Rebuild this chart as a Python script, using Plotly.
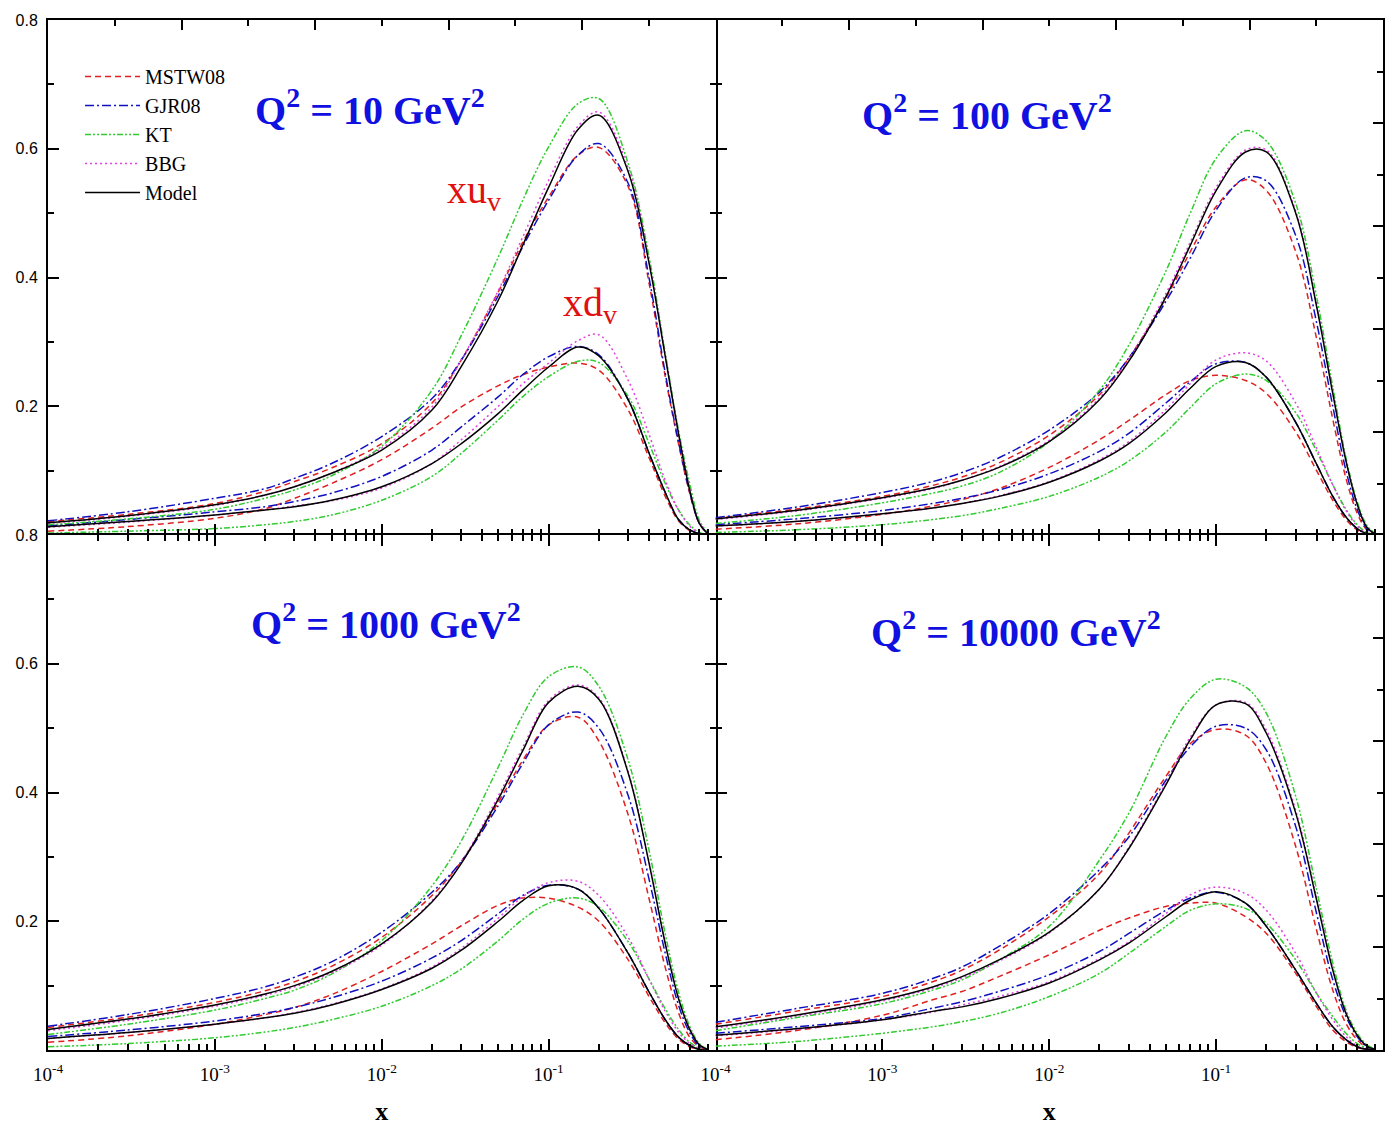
import plotly.graph_objects as go

# Sampling points in x (shared by every curve)
X_GRID = [1e-4, 3e-4, 1e-3, 2e-3, 3e-3, 5e-3, 0.01, 0.02, 0.03, 0.05, 0.07,
          0.1, 0.15, 0.2, 0.3, 0.4, 0.5, 0.6, 0.7, 0.8, 0.9]

# Q^2 = 10 GeV^2
Q10_XUV_MSTW = [0.021, 0.032, 0.049, 0.068, 0.083, 0.104, 0.142, 0.205, 0.272, 0.378, 0.455, 0.525, 0.590, 0.602, 0.541, 0.391, 0.246, 0.142, 0.065, 0.018, 0.002]
Q10_XUV_GJR = [0.022, 0.036, 0.057, 0.072, 0.088, 0.111, 0.153, 0.212, 0.272, 0.372, 0.448, 0.520, 0.590, 0.608, 0.546, 0.399, 0.251, 0.145, 0.067, 0.018, 0.002]
Q10_XUV_KT = [0.016, 0.025, 0.040, 0.057, 0.070, 0.092, 0.138, 0.225, 0.310, 0.432, 0.520, 0.603, 0.670, 0.678, 0.577, 0.432, 0.282, 0.163, 0.080, 0.023, 0.003]
Q10_XUV_BBG = [0.018, 0.029, 0.046, 0.062, 0.075, 0.096, 0.135, 0.199, 0.272, 0.380, 0.463, 0.551, 0.635, 0.657, 0.570, 0.425, 0.280, 0.160, 0.072, 0.019, 0.002]
Q10_XUV_MODEL = [0.019, 0.030, 0.047, 0.062, 0.075, 0.096, 0.132, 0.194, 0.262, 0.365, 0.450, 0.540, 0.630, 0.652, 0.564, 0.422, 0.277, 0.158, 0.070, 0.018, 0.002]
Q10_XDV_MSTW = [0.006, 0.013, 0.026, 0.041, 0.057, 0.080, 0.117, 0.166, 0.199, 0.232, 0.249, 0.261, 0.267, 0.256, 0.194, 0.120, 0.060, 0.022, 0.007, 0.001, 0.0]
Q10_XDV_GJR = [0.014, 0.024, 0.036, 0.044, 0.052, 0.065, 0.091, 0.132, 0.168, 0.215, 0.249, 0.277, 0.293, 0.280, 0.210, 0.127, 0.066, 0.024, 0.008, 0.002, 0.0]
Q10_XDV_KT = [0.003, 0.006, 0.010, 0.016, 0.021, 0.031, 0.054, 0.091, 0.127, 0.179, 0.215, 0.246, 0.270, 0.268, 0.215, 0.142, 0.080, 0.039, 0.016, 0.004, 0.001]
Q10_XDV_BBG = [0.012, 0.020, 0.031, 0.039, 0.045, 0.053, 0.073, 0.111, 0.148, 0.200, 0.235, 0.267, 0.302, 0.311, 0.240, 0.156, 0.085, 0.039, 0.014, 0.003, 0.0]
Q10_XDV_MODEL = [0.013, 0.021, 0.031, 0.039, 0.044, 0.054, 0.075, 0.111, 0.142, 0.189, 0.225, 0.261, 0.292, 0.278, 0.210, 0.127, 0.066, 0.024, 0.008, 0.002, 0.0]

# Q^2 = 100 GeV^2
Q100_XUV_MSTW = [0.026, 0.040, 0.060, 0.077, 0.090, 0.112, 0.155, 0.218, 0.275, 0.368, 0.440, 0.510, 0.552, 0.535, 0.440, 0.305, 0.180, 0.088, 0.034, 0.008, 0.001]
Q100_XUV_GJR = [0.027, 0.043, 0.066, 0.083, 0.097, 0.120, 0.163, 0.222, 0.275, 0.363, 0.430, 0.505, 0.555, 0.550, 0.465, 0.330, 0.200, 0.100, 0.040, 0.010, 0.001]
Q100_XUV_KT = [0.018, 0.030, 0.050, 0.065, 0.076, 0.097, 0.145, 0.225, 0.295, 0.410, 0.500, 0.585, 0.628, 0.612, 0.515, 0.370, 0.230, 0.120, 0.052, 0.015, 0.002]
Q100_XUV_BBG = [0.024, 0.037, 0.057, 0.072, 0.085, 0.106, 0.147, 0.213, 0.273, 0.375, 0.455, 0.540, 0.598, 0.598, 0.503, 0.358, 0.222, 0.116, 0.049, 0.012, 0.001]
Q100_XUV_MODEL = [0.025, 0.038, 0.058, 0.073, 0.085, 0.105, 0.145, 0.210, 0.270, 0.370, 0.450, 0.535, 0.595, 0.595, 0.500, 0.355, 0.220, 0.115, 0.048, 0.012, 0.001]
Q100_XDV_MSTW = [0.009, 0.017, 0.032, 0.045, 0.055, 0.072, 0.105, 0.148, 0.178, 0.218, 0.240, 0.248, 0.240, 0.220, 0.160, 0.100, 0.054, 0.024, 0.008, 0.002, 0.0]
Q100_XDV_GJR = [0.016, 0.025, 0.038, 0.049, 0.057, 0.070, 0.095, 0.130, 0.158, 0.205, 0.238, 0.266, 0.268, 0.245, 0.175, 0.110, 0.060, 0.028, 0.010, 0.002, 0.0]
Q100_XDV_KT = [0.004, 0.008, 0.016, 0.024, 0.030, 0.041, 0.060, 0.090, 0.115, 0.160, 0.198, 0.235, 0.250, 0.240, 0.190, 0.130, 0.078, 0.040, 0.016, 0.004, 0.0]
Q100_XDV_BBG = [0.014, 0.021, 0.033, 0.042, 0.049, 0.061, 0.083, 0.117, 0.145, 0.195, 0.235, 0.272, 0.283, 0.270, 0.205, 0.135, 0.078, 0.038, 0.014, 0.003, 0.0]
Q100_XDV_MODEL = [0.014, 0.021, 0.033, 0.042, 0.049, 0.060, 0.082, 0.115, 0.142, 0.190, 0.228, 0.262, 0.268, 0.245, 0.175, 0.110, 0.060, 0.028, 0.010, 0.002, 0.0]

# Q^2 = 1000 GeV^2
Q1000_XUV_MSTW = [0.035, 0.051, 0.074, 0.092, 0.106, 0.130, 0.175, 0.240, 0.293, 0.385, 0.450, 0.505, 0.517, 0.480, 0.365, 0.235, 0.128, 0.058, 0.020, 0.005, 0.0]
Q1000_XUV_GJR = [0.037, 0.055, 0.080, 0.098, 0.113, 0.137, 0.183, 0.245, 0.293, 0.380, 0.445, 0.505, 0.525, 0.500, 0.395, 0.265, 0.150, 0.070, 0.027, 0.006, 0.001]
Q1000_XUV_KT = [0.024, 0.040, 0.062, 0.080, 0.093, 0.118, 0.170, 0.255, 0.325, 0.440, 0.520, 0.580, 0.595, 0.565, 0.450, 0.310, 0.180, 0.090, 0.037, 0.010, 0.001]
Q1000_XUV_BBG = [0.030, 0.046, 0.068, 0.085, 0.098, 0.120, 0.163, 0.232, 0.292, 0.395, 0.470, 0.543, 0.567, 0.547, 0.432, 0.292, 0.167, 0.081, 0.033, 0.008, 0.001]
Q1000_XUV_MODEL = [0.032, 0.048, 0.070, 0.087, 0.100, 0.122, 0.165, 0.230, 0.290, 0.390, 0.465, 0.540, 0.565, 0.545, 0.430, 0.290, 0.165, 0.080, 0.032, 0.008, 0.001]
Q1000_XDV_MSTW = [0.012, 0.022, 0.040, 0.055, 0.066, 0.086, 0.122, 0.165, 0.193, 0.225, 0.236, 0.236, 0.222, 0.200, 0.140, 0.083, 0.042, 0.017, 0.005, 0.001, 0.0]
Q1000_XDV_GJR = [0.021, 0.031, 0.045, 0.057, 0.066, 0.081, 0.107, 0.143, 0.170, 0.212, 0.240, 0.256, 0.250, 0.220, 0.150, 0.090, 0.047, 0.020, 0.007, 0.001, 0.0]
Q1000_XDV_KT = [0.005, 0.010, 0.019, 0.028, 0.035, 0.047, 0.068, 0.100, 0.126, 0.170, 0.203, 0.228, 0.236, 0.222, 0.168, 0.110, 0.064, 0.032, 0.012, 0.003, 0.0]
Q1000_XDV_BBG = [0.018, 0.027, 0.040, 0.050, 0.058, 0.071, 0.095, 0.129, 0.158, 0.205, 0.238, 0.260, 0.262, 0.240, 0.175, 0.110, 0.060, 0.028, 0.010, 0.002, 0.0]
Q1000_XDV_MODEL = [0.018, 0.027, 0.040, 0.050, 0.057, 0.070, 0.094, 0.127, 0.155, 0.200, 0.232, 0.255, 0.250, 0.220, 0.150, 0.090, 0.047, 0.020, 0.007, 0.001, 0.0]

# Q^2 = 10000 GeV^2
Q10000_XUV_MSTW = [0.040, 0.060, 0.083, 0.106, 0.124, 0.155, 0.207, 0.274, 0.337, 0.425, 0.476, 0.498, 0.489, 0.445, 0.316, 0.186, 0.093, 0.041, 0.016, 0.004, 0.0]
Q10000_XUV_GJR = [0.043, 0.064, 0.088, 0.111, 0.129, 0.161, 0.212, 0.280, 0.331, 0.419, 0.471, 0.503, 0.500, 0.466, 0.347, 0.212, 0.109, 0.052, 0.021, 0.005, 0.001]
Q10000_XUV_KT = [0.030, 0.050, 0.072, 0.093, 0.109, 0.140, 0.192, 0.295, 0.368, 0.487, 0.546, 0.576, 0.564, 0.523, 0.394, 0.249, 0.135, 0.062, 0.026, 0.008, 0.001]
Q10000_XUV_BBG = [0.034, 0.052, 0.076, 0.096, 0.112, 0.138, 0.182, 0.250, 0.315, 0.415, 0.486, 0.536, 0.540, 0.497, 0.372, 0.236, 0.126, 0.058, 0.023, 0.006, 0.001]
Q10000_XUV_MODEL = [0.036, 0.054, 0.078, 0.098, 0.114, 0.140, 0.183, 0.250, 0.313, 0.412, 0.482, 0.536, 0.538, 0.492, 0.368, 0.233, 0.124, 0.057, 0.023, 0.006, 0.001]
Q10000_XDV_MSTW = [0.016, 0.030, 0.054, 0.078, 0.091, 0.114, 0.148, 0.186, 0.205, 0.223, 0.228, 0.228, 0.207, 0.181, 0.119, 0.067, 0.031, 0.013, 0.004, 0.001, 0.0]
Q10000_XDV_GJR = [0.026, 0.036, 0.049, 0.065, 0.075, 0.091, 0.117, 0.153, 0.181, 0.217, 0.236, 0.245, 0.228, 0.192, 0.124, 0.072, 0.036, 0.016, 0.005, 0.001, 0.0]
Q10000_XDV_KT = [0.006, 0.013, 0.026, 0.036, 0.044, 0.057, 0.083, 0.119, 0.150, 0.192, 0.217, 0.227, 0.220, 0.197, 0.140, 0.088, 0.052, 0.026, 0.010, 0.003, 0.0]
Q10000_XDV_BBG = [0.022, 0.032, 0.047, 0.059, 0.070, 0.083, 0.106, 0.142, 0.168, 0.212, 0.241, 0.253, 0.243, 0.217, 0.150, 0.088, 0.047, 0.021, 0.006, 0.001, 0.0]
Q10000_XDV_MODEL = [0.023, 0.033, 0.047, 0.060, 0.067, 0.080, 0.104, 0.140, 0.166, 0.207, 0.233, 0.246, 0.228, 0.192, 0.124, 0.072, 0.036, 0.016, 0.005, 0.001, 0.0]

SERIES_NAMES = ["MSTW08", "GJR08", "KT", "BBG", "Model"]
SERIES_COLORS = ["#e02020", "#1010c0", "#30cc30", "#e040e0", "#000000"]
SERIES_DASH = ["6px,4px", "9px,3px,2px,3px", "6px,2px,2px,2px,2px,2px", "2px,3px", "solid"]

PANEL_TITLES = ["Q<sup>2</sup> = 10 GeV<sup>2</sup>", "Q<sup>2</sup> = 100 GeV<sup>2</sup>",
                "Q<sup>2</sup> = 1000 GeV<sup>2</sup>", "Q<sup>2</sup> = 10000 GeV<sup>2</sup>"]

panels = [
    ("x", "y", [Q10_XUV_MSTW, Q10_XUV_GJR, Q10_XUV_KT, Q10_XUV_BBG, Q10_XUV_MODEL],
     [Q10_XDV_MSTW, Q10_XDV_GJR, Q10_XDV_KT, Q10_XDV_BBG, Q10_XDV_MODEL]),
    ("x2", "y2", [Q100_XUV_MSTW, Q100_XUV_GJR, Q100_XUV_KT, Q100_XUV_BBG, Q100_XUV_MODEL],
     [Q100_XDV_MSTW, Q100_XDV_GJR, Q100_XDV_KT, Q100_XDV_BBG, Q100_XDV_MODEL]),
    ("x3", "y3", [Q1000_XUV_MSTW, Q1000_XUV_GJR, Q1000_XUV_KT, Q1000_XUV_BBG, Q1000_XUV_MODEL],
     [Q1000_XDV_MSTW, Q1000_XDV_GJR, Q1000_XDV_KT, Q1000_XDV_BBG, Q1000_XDV_MODEL]),
    ("x4", "y4", [Q10000_XUV_MSTW, Q10000_XUV_GJR, Q10000_XUV_KT, Q10000_XUV_BBG, Q10000_XUV_MODEL],
     [Q10000_XDV_MSTW, Q10000_XDV_GJR, Q10000_XDV_KT, Q10000_XDV_BBG, Q10000_XDV_MODEL]),
]

fig = go.Figure()

for p, (xa, ya, up_sets, down_sets) in enumerate(panels):
    for k in range(5):
        for j, vals in enumerate((up_sets[k], down_sets[k])):
            fig.add_trace(go.Scatter(
                x=X_GRID, y=vals, xaxis=xa, yaxis=ya, mode="lines",
                name=SERIES_NAMES[k], legendgroup=SERIES_NAMES[k],
                showlegend=(p == 0 and j == 0),
                line=dict(color=SERIES_COLORS[k], width=1.5, dash=SERIES_DASH[k],
                          shape="spline", smoothing=1.0),
                hoverinfo="skip",
            ))

# empty traces so that the frame axes on the top / right get drawn
for xa, ya in (("x5", "y"), ("x6", "y2"), ("x2", "y5"), ("x4", "y6")):
    fig.add_trace(go.Scatter(x=[None], y=[None], xaxis=xa, yaxis=ya, mode="lines",
                             showlegend=False, hoverinfo="skip"))

SERIF = "Liberation Serif, Times New Roman, serif"
SANS = "Liberation Sans, Arial, sans-serif"

MAJOR_X = [1e-4, 1e-3, 1e-2, 1e-1]
MAJOR_X_TEXT = ["10<sup>-4</sup>", "10<sup>-3</sup>", "10<sup>-2</sup>", "10<sup>-1</sup>"]
MINOR_X = [k * 10.0 ** e for e in range(-4, 0) for k in range(2, 10)]


def log_axis(domain, anchor, labels, line, mirror):
    ax = dict(
        type="log", range=[-4, 0], domain=domain, anchor=anchor,
        tickmode="array", tickvals=MAJOR_X, ticktext=MAJOR_X_TEXT,
        showticklabels=labels, ticks="inside", ticklen=11, tickwidth=1.8,
        tickcolor="black", showline=line, linecolor="black", linewidth=2,
        mirror=mirror, showgrid=False, zeroline=False,
        tickfont=dict(family=SERIF, size=19, color="black"),
        ticklabelstandoff=6,
        minor=dict(tickmode="array", tickvals=MINOR_X, ticks="inside", ticklen=6,
                   tickwidth=1.5, tickcolor="black", showgrid=False),
    )
    if labels:
        ax["title"] = dict(text="<b>x</b>", font=dict(family=SERIF, size=26, color="black"),
                           standoff=18)
    return ax


def lin_y_axis(domain, anchor, labels, line, mirror):
    return dict(
        range=[0, 0.8], domain=domain, anchor=anchor,
        tickmode="array", tickvals=[0.2, 0.4, 0.6, 0.8],
        ticktext=["0.2", "0.4", "0.6", "0.8"],
        showticklabels=labels, ticks="inside", ticklen=11, tickwidth=1.8,
        tickcolor="black", showline=line, linecolor="black", linewidth=2,
        mirror=mirror, showgrid=False, zeroline=False,
        tickfont=dict(family=SANS, size=16, color="black"),
        ticklabelstandoff=5,
        minor=dict(dtick=0.1, tick0=0, ticks="inside", ticklen=6, tickwidth=1.5,
                   tickcolor="black", showgrid=False),
    )


def frame_ticks(overlay, anchor, side):
    return dict(
        overlaying=overlay, anchor=anchor, side=side, range=[0, 1],
        tickmode="linear", tick0=0, dtick=0.2, ticks="inside", ticklen=10,
        tickwidth=1.8, tickcolor="black", showticklabels=False,
        showline=True, linecolor="black", linewidth=2,
        showgrid=False, zeroline=False,
        minor=dict(dtick=0.1, tick0=0, ticks="inside", ticklen=6, tickwidth=1.5,
                   tickcolor="black", showgrid=False),
    )


fig.update_layout(
    width=1386, height=1126,
    margin=dict(l=48, r=3, t=20, b=76),
    paper_bgcolor="white", plot_bgcolor="white",
    # the shared middle edges are drawn once, by the lower / left panels
    xaxis=log_axis([0, 0.5], "y", False, False, False),
    xaxis2=log_axis([0.5, 1], "y2", False, False, False),
    xaxis3=log_axis([0, 0.5], "y3", True, True, "ticks"),
    xaxis4=log_axis([0.5, 1], "y4", True, True, "ticks"),
    yaxis=lin_y_axis([0.5, 1], "x", True, True, "ticks"),
    yaxis2=lin_y_axis([0.5, 1], "x2", False, False, False),
    yaxis3=lin_y_axis([0, 0.5], "x3", True, True, "ticks"),
    yaxis4=lin_y_axis([0, 0.5], "x4", False, False, False),
    xaxis5=frame_ticks("x", "y", "top"),
    xaxis6=frame_ticks("x2", "y2", "top"),
    yaxis5=frame_ticks("y2", "x2", "right"),
    yaxis6=frame_ticks("y4", "x4", "right"),
    legend=dict(x=0.024, y=0.964, xanchor="left", yanchor="top",
                bgcolor="rgba(0,0,0,0)", itemwidth=55, tracegroupgap=0,
                font=dict(family=SERIF, size=20, color="black")),
    showlegend=True,
)

title_pos = [(0.241, 0.915), (0.703, 0.910), (0.253, 0.416), (0.725, 0.408)]
for (px, py), text in zip(title_pos, PANEL_TITLES):
    fig.add_annotation(x=px, y=py, xref="paper", yref="paper", showarrow=False,
                       xanchor="center", yanchor="middle",
                       text="<b>" + text + "</b>",
                       font=dict(family=SERIF, size=40, color="#1010e0"))

fig.add_annotation(x=0.319, y=0.833, xref="paper", yref="paper", showarrow=False,
                   xanchor="center", yanchor="middle",
                   text="xu<sub>v</sub>", font=dict(family=SERIF, size=40, color="#e01010"))
fig.add_annotation(x=0.406, y=0.723, xref="paper", yref="paper", showarrow=False,
                   xanchor="center", yanchor="middle",
                   text="xd<sub>v</sub>", font=dict(family=SERIF, size=40, color="#e01010"))

fig.write_html("out.html")
